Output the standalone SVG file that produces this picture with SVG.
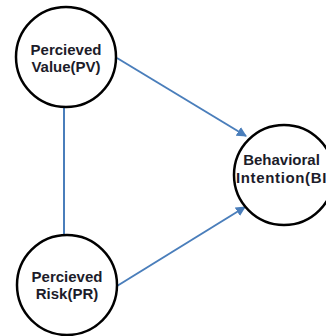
<svg xmlns="http://www.w3.org/2000/svg" width="326" height="336" viewBox="0 0 326 336">
<style>
.node circle{fill:#fff;stroke:#000;stroke-width:2.5}
.node text{font-family:"Liberation Sans",Arial,sans-serif;font-size:15px;font-weight:bold;fill:#1c1c2a;text-anchor:middle}
.edge{stroke:#4a7ebb;stroke-width:2;fill:none}
</style>
<defs>
<marker id="arr" viewBox="0 0 10 10" refX="9" refY="5" markerWidth="5" markerHeight="5" orient="auto" markerUnits="strokeWidth">
<path d="M0,0 L10,5 L0,10 z" fill="#4a7ebb"/>
</marker>
</defs>
<rect width="326" height="336" fill="#fff"/>
<g id="connectors">
<line class="edge" x1="64" y1="107" x2="64" y2="235"/>
<line class="edge" x1="117" y1="58" x2="246" y2="136" marker-end="url(#arr)"/>
<line class="edge" x1="117" y1="286" x2="245" y2="207" marker-end="url(#arr)"/>
</g>
<g id="PV" class="node">
<circle cx="66" cy="57" r="50"/>
<text x="66" y="55">Percieved</text>
<text x="66" y="72">Value(PV)</text>
</g>
<g id="PR" class="node">
<circle cx="67" cy="285" r="50"/>
<text x="67" y="282">Percieved</text>
<text x="67" y="299">Risk(PR)</text>
</g>
<g id="BI" class="node">
<circle cx="284" cy="175" r="50"/>
<text x="281.5" y="165">Behavioral</text>
<text x="236" y="183" style="text-anchor:start" textLength="96" lengthAdjust="spacing">Intention(BI)</text>
</g>
</svg>
